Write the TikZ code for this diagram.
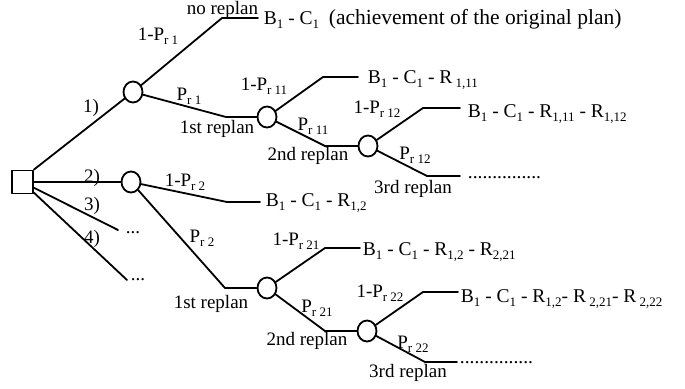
\documentclass[tikz,border=0pt]{standalone}
\usepackage{fontspec}
\setmainfont{Liberation Serif}
\usepackage{tikz}
\usetikzlibrary{shapes.geometric, calc}
\tikzstyle{chance}=[ellipse,draw,line width=1.8pt,inner sep=0pt,minimum width=19pt,minimum height=21pt]
\tikzstyle{decision}=[rectangle,draw,line width=1.8pt,inner sep=0pt,minimum width=21pt,minimum height=23pt]
\tikzstyle{lbl}=[inner sep=0pt,anchor=base,font=\fontsize{19}{21}\selectfont]
\tikzstyle{outc}=[lbl,anchor=base west,font=\fontsize{19.5}{21}\selectfont]
\newcommand{\sub}[1]{\raisebox{-4pt}{\fontsize{13}{13}\selectfont #1}}

\begin{document}
\begin{tikzpicture}[line cap=round,line join=round,x=1pt,y=-1pt,line width=1.8pt]
\useasboundingbox (0,0) rectangle (685,388);
% decision and chance nodes
\node[decision] (d) at (22.5,182) {};
\node[chance] (c1) at (133,92) {};
\node[chance] (c11) at (267,117) {};
\node[chance] (c12) at (368,146) {};
\node[chance] (c2) at (131,182) {};
\node[chance] (c21) at (267,288) {};
\node[chance] (c22) at (367,331) {};
% branch corners
\coordinate (n0) at (222,18);
\coordinate (n1) at (258,18);
\coordinate (r1) at (226,117);
\coordinate (a11) at (323,77);
\coordinate (b11) at (358,77);
\coordinate (r11) at (325,146);
\coordinate (a12) at (423,108);
\coordinate (b12) at (460,108);
\coordinate (r12) at (427,176);
\coordinate (s12) at (460,176);
\coordinate (e3) at (118,230);
\coordinate (e4) at (127,280);
\coordinate (a2) at (227,202);
\coordinate (b2) at (260,202);
\coordinate (r2) at (225,288);
\coordinate (a21) at (325,248);
\coordinate (b21) at (360,248);
\coordinate (r21) at (325,331);
\coordinate (a22) at (423,292);
\coordinate (b22) at (458,292);
\coordinate (r22) at (425,362);
\coordinate (s22) at (457,362);
% branches
\draw (d.north east) -- (c1);
\draw (d) -- (c2);
\draw (d) -- (e3);
\draw (d) -- (e4);
\draw (c1) -- (n0) -- (n1);
\draw (c1) -- (r1) -- (c11);
\draw (c11) -- (a11) -- (b11);
\draw (c11) -- (r11) -- (c12);
\draw (c12) -- (a12) -- (b12);
\draw (c12) -- (r12) -- (s12);
\draw (c2) -- (a2) -- (b2);
\draw (c2) -- (r2) -- (c21);
\draw (c21) -- (a21) -- (b21);
\draw (c21) -- (r21) -- (c22);
\draw (c22) -- (a22) -- (b22);
\draw (c22) -- (r22) -- (s22);
% labels
\node[lbl] (l1) at (91,112) {1)};
\node[lbl] (l2) at (92,182) {2)};
\node[lbl] (l3) at (92,210) {3)};
\node[lbl] (l4) at (92,243) {4)};
\node[lbl] (m3) at (133,233) {...};
\node[lbl] (m4) at (138,280) {...};
\node[lbl] (nr) at (222.5,14.5) {no replan};
\node[lbl] (q1) at (158,40) {1-P\sub{r 1}};
\node[lbl] (p1) at (189,100) {P\sub{r 1}};
\node[lbl] (f1) at (217,133) {1st replan};
\node[lbl] (q11) at (264,90) {1-P\sub{r 11}};
\node[lbl] (p11) at (313,130) {P\sub{r 11}};
\node[lbl] (f11) at (308,160) {2nd replan};
\node[lbl] (q12) at (377,113) {1-P\sub{r 12}};
\node[lbl] (p12) at (415,159) {P\sub{r 12}};
\node[lbl] (f12) at (413,193) {3rd replan};
\node[lbl] (q2) at (185,186) {1-P\sub{r 2}};
\node[lbl] (p2) at (202,242) {P\sub{r 2}};
\node[lbl] (f2) at (211,308) {1st replan};
\node[lbl] (q21) at (296,245) {1-P\sub{r 21}};
\node[lbl] (p21) at (317,312) {P\sub{r 21}};
\node[lbl] (f21) at (307,345) {2nd replan};
\node[lbl] (q22) at (380,297) {1-P\sub{r 22}};
\node[lbl] (p22) at (413,348) {P\sub{r 22}};
\node[lbl] (f22) at (408,377) {3rd replan};
% outcomes
\node[outc] (o0) at (263,24) {B\sub{1} - C\sub{1}\ \ {\fontsize{21.5}{23}\selectfont (achievement of the original plan)}};
\node[outc] (o11) at (367,83) {B\sub{1} - C\sub{1} - R\sub{ 1,11}};
\node[outc] (o12) at (467,117) {B\sub{1} - C\sub{1} - R\sub{1,11} - R\sub{1,12}};
\node[outc] (k12) at (467,178) {...............};
\node[outc] (o2) at (265,206) {B\sub{1} - C\sub{1} - R\sub{1,2}};
\node[outc] (o21) at (362,255) {B\sub{1} - C\sub{1} - R\sub{1,2} - R\sub{2,21}};
\node[outc] (o22) at (460,302) {B\sub{1} - C\sub{1} - R\sub{1,2}- R\sub{ 2,21}- R\sub{ 2,22}};
\node[outc] (k22) at (459,363) {...............};
\end{tikzpicture}
\end{document}
